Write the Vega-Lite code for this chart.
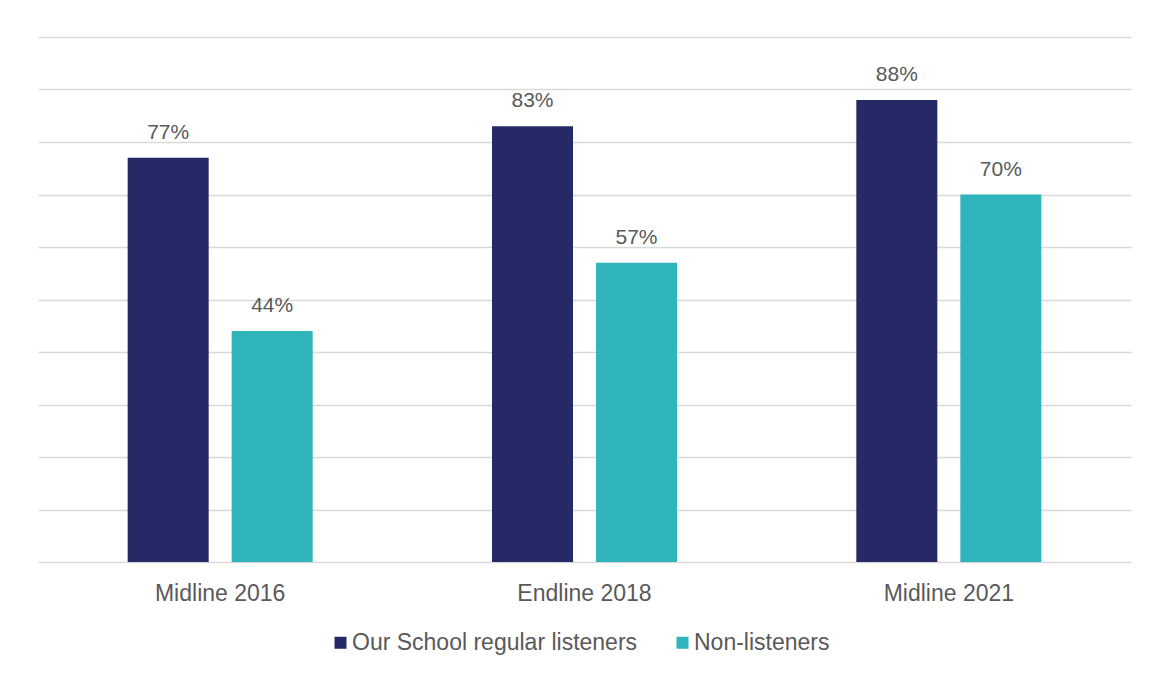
{
  "$schema": "https://vega.github.io/schema/vega-lite/v6.json",
  "width": 1093,
  "height": 525,
  "autosize": {"type": "none"},
  "padding": {"left": 38, "top": 37, "right": 21, "bottom": 113},
  "background": "white",
  "config": {
    "view": {"stroke": null},
    "font": "Liberation Sans",
    "text": {"font": "Liberation Sans"}
  },
  "data": {
    "values": [
      {"wave": "Midline 2016", "group": "Our School regular listeners", "value": 0.77},
      {"wave": "Midline 2016", "group": "Non-listeners", "value": 0.44},
      {"wave": "Endline 2018", "group": "Our School regular listeners", "value": 0.83},
      {"wave": "Endline 2018", "group": "Non-listeners", "value": 0.57},
      {"wave": "Midline 2021", "group": "Our School regular listeners", "value": 0.88},
      {"wave": "Midline 2021", "group": "Non-listeners", "value": 0.70}
    ]
  },
  "encoding": {
    "x": {
      "field": "wave", "type": "nominal", "sort": null,
      "scale": {"paddingInner": 0, "paddingOuter": 0},
      "axis": {
        "title": null, "ticks": false, "domain": false, "grid": false,
        "labelAngle": 0, "labelFontSize": 23, "labelColor": "#595959",
        "labelFont": "Liberation Sans", "labelBaseline": "alphabetic", "labelPadding": 38
      }
    },
    "xOffset": {
      "field": "group", "type": "nominal", "sort": ["Our School regular listeners", "Non-listeners"],
      "scale": {"paddingInner": 0.221, "paddingOuter": 0.862}
    },
    "y": {
      "field": "value", "type": "quantitative",
      "scale": {"domain": [0, 1], "nice": false},
      "axis": {
        "title": null, "labels": false, "ticks": false, "domain": false,
        "values": [0, 0.1, 0.2, 0.3, 0.4, 0.5, 0.6, 0.7, 0.8, 0.9, 1.0],
        "gridColor": "#d9d9d9", "gridWidth": 1.5
      }
    }
  },
  "layer": [
    {
      "mark": {"type": "bar"},
      "encoding": {
        "color": {
          "field": "group", "type": "nominal",
          "sort": ["Our School regular listeners", "Non-listeners"],
          "scale": {"domain": ["Our School regular listeners", "Non-listeners"], "range": ["#252A66", "#31B5BC"]},
          "legend": {
            "title": null, "orient": "none", "direction": "horizontal",
            "legendX": 291, "legendY": 594,
            "symbolType": "square", "symbolSize": 144, "symbolStrokeWidth": 0,
            "labelFontSize": 23, "labelColor": "#595959", "labelFont": "Liberation Sans",
            "labelLimit": 500, "labelOffset": 0, "columnPadding": 33
          }
        }
      }
    },
    {
      "mark": {"type": "text", "baseline": "alphabetic", "dy": -19, "fontSize": 21, "color": "#595959", "font": "Liberation Sans"},
      "encoding": {
        "text": {"field": "value", "type": "quantitative", "format": ".0%"}
      }
    }
  ]
}
